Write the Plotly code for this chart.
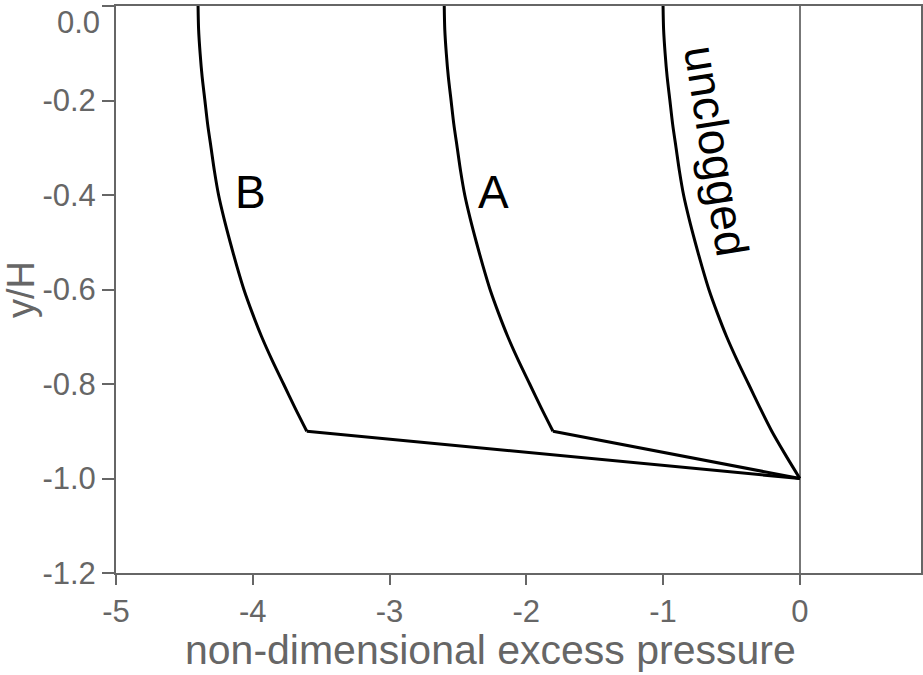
import plotly.graph_objects as go

# y/H levels
y_levels = [0.0, -0.05, -0.1, -0.15, -0.2, -0.25, -0.3, -0.35, -0.4, -0.45, -0.5,
            -0.55, -0.6, -0.65, -0.7, -0.75, -0.8, -0.85, -0.9, -0.95, -1.0]
# unclogged excess pressure
p_unclogged = [-1.0, -0.996, -0.985, -0.97, -0.95, -0.93, -0.905, -0.88, -0.85, -0.81, -0.765,
               -0.717, -0.665, -0.603, -0.535, -0.458, -0.375, -0.292, -0.205, -0.105, 0.0]

# clogged cases: curved part down to y/H=-0.9 ...
y_clog = [0.0, -0.05, -0.1, -0.15, -0.2, -0.25, -0.3, -0.35, -0.4, -0.45, -0.5,
          -0.55, -0.6, -0.65, -0.7, -0.75, -0.8, -0.85, -0.9]
p_A = [-2.60, -2.596, -2.585, -2.57, -2.55, -2.53, -2.505, -2.48, -2.45, -2.41, -2.365,
       -2.317, -2.265, -2.203, -2.135, -2.058, -1.975, -1.892, -1.805]
p_B = [-4.40, -4.396, -4.385, -4.37, -4.35, -4.33, -4.305, -4.28, -4.25, -4.21, -4.165,
       -4.117, -4.065, -4.003, -3.935, -3.858, -3.775, -3.692, -3.605]
# ... then straight to the bottom point
bottom_x = 0.0
bottom_y = -1.0

labels = ["B", "A", "unclogged"]
label_x = [-4.02, -2.24, -0.61]
label_y = [-0.394, -0.394, -0.307]
label_angle = [0, 0, 81]

x_ticks = [-5, -4, -3, -2, -1, 0]
y_ticks = [0.0, -0.2, -0.4, -0.6, -0.8, -1.0, -1.2]
x_title = "non-dimensional excess pressure"
y_title = "y/H"

fig = go.Figure()
line_curve = dict(color="black", width=3, shape="spline", smoothing=0.8)
line_straight = dict(color="black", width=3)
fig.add_trace(go.Scatter(x=p_unclogged, y=y_levels, mode="lines", line=line_curve, showlegend=False))
for px_, py_ in [(p_A, y_clog), (p_B, y_clog)]:
    fig.add_trace(go.Scatter(x=px_, y=py_, mode="lines", line=line_curve, showlegend=False))
    fig.add_trace(go.Scatter(x=[px_[-1], bottom_x], y=[py_[-1], bottom_y], mode="lines",
                             line=line_straight, showlegend=False))

for t, xx, yy, ang in zip(labels, label_x, label_y, label_angle):
    fig.add_annotation(x=xx, y=yy, text=t, showarrow=False, textangle=ang,
                       font=dict(size=46, color="black", family="Liberation Sans, Arial"))

# x-axis title (placed as paper annotation)
fig.add_annotation(xref="paper", yref="paper", x=0.465, y=-0.092, yanchor="top",
                   text=x_title, showarrow=False,
                   font=dict(size=41, color="#666666", family="Liberation Sans, Arial"))

# top tick label, pushed inside the page like the reference
y_ticktext = [f"{v:.1f}" for v in y_ticks]
top_label = y_ticktext[0]
y_ticktext[0] = ""
fig.add_annotation(xref="paper", yref="paper", x=0, y=1, xanchor="right", yanchor="top",
                   xshift=-14, yshift=3, text=top_label, showarrow=False,
                   font=dict(size=31, color="#666666", family="Liberation Sans, Arial"))

axis_common = dict(showgrid=False, showline=True, linecolor="#666666", linewidth=2,
                   mirror=True, ticks="outside", tickcolor="#666666", tickwidth=2,
                   tickfont=dict(size=31, color="#666666"),
                   automargin=False,
                   title_font=dict(size=38, color="#666666"))

fig.update_xaxes(range=[-5, 0.886], tickvals=x_ticks, ticklen=10,
                 ticktext=[str(v) for v in x_ticks],
                 zeroline=True, zerolinecolor="#777777", zerolinewidth=1.5,
                 **axis_common)
fig.update_yaxes(range=[-1.2, 0.0], tickvals=y_ticks, ticklen=12,
                 ticktext=y_ticktext,
                 zeroline=False, title_text=y_title, title_standoff=8,
                 **axis_common)

fig.update_layout(width=923, height=675,
                  margin=dict(l=116, r=2, t=6, b=102),
                  plot_bgcolor="white", paper_bgcolor="white",
                  font=dict(family="Liberation Sans, Arial"))

fig.write_html("out.html")
